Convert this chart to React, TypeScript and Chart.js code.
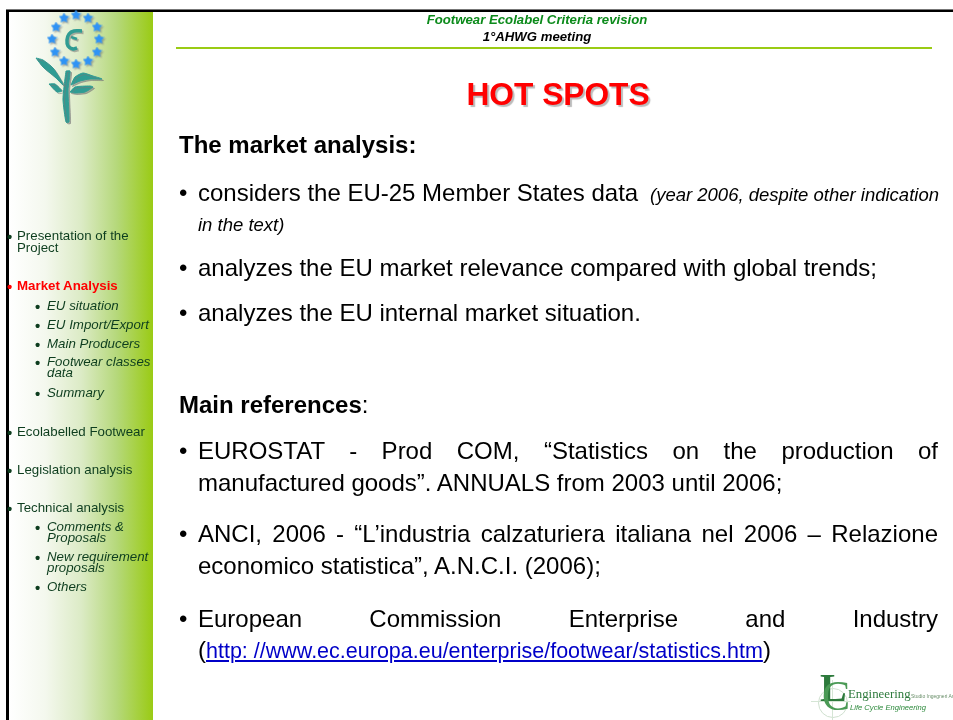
import React, { useEffect, useRef } from "react";
import { Chart, registerables } from "chart.js";

Chart.register(...registerables);

// Flower emblem (axis units equal page pixels)
const starX = [76, 88, 97, 99, 97, 88, 76, 64, 55, 52, 56, 64];
const starY = [15, 18, 27, 39, 52, 61, 64, 61, 52, 39, 27, 18];
const curlX = [82, 74, 69, 67, 68, 73, 77];
const curlY = [31, 31, 34, 40, 46, 49, 48];
const barX = [71, 77];
const barY = [37, 39];
const leafA = [[36, 58], [43, 60], [53, 68], [62, 82], [63, 85], [55, 77], [43, 67], [36, 58]];
const stem = [[66, 71], [70, 71], [68, 90], [69, 122], [66, 122], [63, 100], [64, 87], [66, 71]];
const leafB = [[71, 85], [75, 77], [83, 73], [93, 76], [102, 79], [90, 79], [80, 81], [71, 85]];
const leafC = [[70, 92], [75, 87], [90, 86], [93, 87], [85, 92], [75, 93], [70, 92]];
const leafD = [[49, 84], [55, 84], [62, 91], [57, 92], [49, 84]];
const ruleX = [176, 932];
const ruleY = [48, 48];

// Slide text
const headerLines = ["Footwear Ecolabel Criteria revision", "1°AHWG meeting"];
const slideTitle = "HOT SPOTS";
const marketHeading = "The market analysis:";
const marketLine1 = "considers the EU-25 Member States data";
const marketNote1 = "(year 2006, despite other indication";
const marketNote2 = "in the text)";
const marketLine2 = "analyzes the EU market relevance compared with global trends;";
const marketLine3 = "analyzes the EU internal market situation.";
const refsHeading = "Main references";
const ref1 = ["EUROSTAT - Prod COM, “Statistics on the production of", "manufactured goods”. ANNUALS from 2003 until 2006;"];
const ref2 = ["ANCI, 2006 - “L’industria calzaturiera italiana nel 2006 – Relazione", "economico statistica”, A.N.C.I. (2006);"];
const ref3 = ["European Commission Enterprise and Industry", "http: //www.ec.europa.eu/enterprise/footwear/statistics.htm"];
const navMain = ["Presentation of the", "Project"];
const navActive = "Market Analysis";
const navMarket = ["EU situation", "EU Import/Export", "Main Producers"];
const navClasses = ["Footwear classes", "data"];
const navSummary = "Summary";
const navEco = "Ecolabelled Footwear";
const navLeg = "Legislation analysis";
const navTech = "Technical analysis";
const navComments = ["Comments &", "Proposals"];
const navNew = ["New requirement", "proposals"];
const navOthers = "Others";

const SANS = "'Liberation Sans', Arial, sans-serif";
const SERIF = "'Liberation Serif', serif";
const NAV = "#0d3d1e";
const NAVSIZE = 13.3;

const poly = (pts: number[][]) => pts.map(([x, y]) => ({ x, y }));
const zip = (xs: number[], ys: number[]) => xs.map((x, i) => ({ x, y: ys[i] }));

const T = ({ x, y, s, c = "#000", b, i, children, st }: any) => (
  <div style={{ position: "absolute", left: x, top: y, fontFamily: SANS, fontSize: s, color: c, fontWeight: b ? 700 : 400, fontStyle: i ? "italic" : "normal", lineHeight: 1, whiteSpace: "pre", ...st }}>
    {children}
  </div>
);

const Bullet = ({ y }: any) => <T x={179} y={y} s={24}>•</T>;
const Body = ({ y, children }: any) => (
  <>
    <Bullet y={y} />
    <T x={198} y={y} s={24}>{children}</T>
  </>
);
const Just = ({ y, children }: any) => (
  <T x={198} y={y} s={24} st={{ width: 740, whiteSpace: "normal", textAlign: "justify", textAlignLast: "justify" }}>{children}</T>
);
const Nav = ({ y, children, c = NAV, b }: any) => (
  <>
    <T x={7} y={y} s={15} c={c} b>•</T>
    <T x={17} y={y} s={NAVSIZE} c={c} b={b}>{children}</T>
  </>
);
const Sub = ({ y, children }: any) => (
  <>
    <T x={35} y={y} s={15} c={NAV} b>•</T>
    <T x={47} y={y} s={NAVSIZE} c={NAV} i>{children}</T>
  </>
);

function starImage(color: string) {
  const cv = document.createElement("canvas");
  cv.width = 11;
  cv.height = 11;
  const g = cv.getContext("2d")!;
  g.fillStyle = color;
  g.beginPath();
  for (let k = 0; k < 10; k++) {
    const r = k % 2 ? 2.9 : 5.5;
    const a = -Math.PI / 2 + (k * Math.PI) / 5;
    g.lineTo(5.5 + r * Math.cos(a), 5.5 + r * Math.sin(a));
  }
  g.closePath();
  g.fill();
  return cv;
}

export default function App() {
  const ref = useRef<HTMLCanvasElement>(null);
  useEffect(() => {
    document.body.style.margin = "0";
    const teal = "#2f9c93";
    const area = (pts: number[][]) => ({
      type: "line" as const, data: poly(pts), fill: "shape", backgroundColor: teal,
      borderColor: teal, borderWidth: 1, pointRadius: 0, tension: 0.2,
    });
    const slidePlugin = {
      id: "slide",
      beforeDraw(c: any) {
        const g = c.ctx;
        g.save();
        g.fillStyle = "#fff";
        g.fillRect(0, 0, 953, 720);
        const grad = g.createLinearGradient(9, 0, 153, 0);
        grad.addColorStop(0, "#ffffff");
        grad.addColorStop(0.25, "#f4f8ee");
        grad.addColorStop(0.5, "#dcebc6");
        grad.addColorStop(0.75, "#b5d87a");
        grad.addColorStop(1, "#9acb14");
        g.fillStyle = grad;
        g.fillRect(9, 12, 144, 708);
        g.fillStyle = "#000";
        g.fillRect(6, 10, 947, 2);
        g.fillRect(6, 10, 3, 710);
        g.fillStyle = "#777";
        g.fillRect(6, 9, 947, 1);
        g.restore();
      },
      beforeDatasetDraw(c: any, args: any) {
        const g = c.ctx;
        const isRule = args.index === c.data.datasets.length - 1;
        g.shadowColor = isRule ? "transparent" : "rgba(120,120,120,0.55)";
        g.shadowOffsetX = isRule ? 0 : 1.5;
        g.shadowOffsetY = isRule ? 0 : 1.5;
        g.shadowBlur = isRule ? 0 : 0.5;
      },
      afterDatasetsDraw(c: any) {
        const g = c.ctx;
        g.shadowColor = "transparent";
        g.shadowOffsetX = 0;
        g.shadowOffsetY = 0;
        g.shadowBlur = 0;
      },
    };
    const chart = new Chart(ref.current!, {
      type: "scatter",
      data: {
        datasets: [
          { type: "scatter", data: zip(starX, starY), pointStyle: starImage("#2f93f5"), pointRadius: 5 },
          { type: "line", data: zip(curlX, curlY), borderColor: teal, borderWidth: 3.5, pointRadius: 0, tension: 0.35, fill: false },
          { type: "line", data: zip(barX, barY), borderColor: teal, borderWidth: 2.5, pointRadius: 0, fill: false },
          area(leafA), area(stem), area(leafB), area(leafC), area(leafD),
          { type: "line", data: zip(ruleX, ruleY), borderColor: "#9acb14", borderWidth: 2, pointRadius: 0, fill: false },
        ] as any,
      },
      options: {
        animation: false, responsive: false, maintainAspectRatio: false,
        layout: { padding: 0, autoPadding: false },
        plugins: { legend: { display: false }, tooltip: { enabled: false } },
        scales: {
          x: { type: "linear", min: 0, max: 953, display: false },
          y: { type: "linear", min: 0, max: 720, reverse: true, display: false },
        },
      } as any,
      plugins: [slidePlugin as any],
    });
    return () => chart.destroy();
  }, []);

  return (
    <div style={{ position: "relative", width: 953, height: 720, overflow: "hidden", background: "#fff" }}>
      <canvas ref={ref} width={953} height={720} style={{ position: "absolute", left: 0, top: 0, display: "block" }} />

      <T x={417} y={13} s={13.2} c="#0b8a1a" b i st={{ width: 240, textAlign: "center" }}>{headerLines[0]}</T>
      <T x={417} y={30} s={13.2} b i st={{ width: 240, textAlign: "center" }}>{headerLines[1]}</T>
      <T x={438} y={79} s={31.7} c="#ff0000" b st={{ width: 240, textAlign: "center", textShadow: "2px 2px 1px #bbb" }}>{slideTitle}</T>

      <T x={179} y={133} s={24} b>{marketHeading}</T>
      <Body y={181}>{marketLine1}</Body>
      <T x={650} y={186} s={18.5} i>{marketNote1}</T>
      <T x={198} y={216} s={18.5} i>{marketNote2}</T>
      <Body y={256}>{marketLine2}</Body>
      <Body y={301}>{marketLine3}</Body>

      <T x={179} y={393} s={24} b>{refsHeading}<span style={{ fontWeight: 400 }}>:</span></T>
      <Bullet y={439} />
      <Just y={439}>{ref1[0]}</Just>
      <T x={198} y={471} s={24}>{ref1[1]}</T>
      <Bullet y={522} />
      <Just y={522}>{ref2[0]}</Just>
      <T x={198} y={554} s={24}>{ref2[1]}</T>
      <Bullet y={607} />
      <Just y={607}>{ref3[0]}</Just>
      <T x={198} y={638} s={24}>(<span style={{ fontSize: 21.5, color: "#0000c8", textDecoration: "underline" }}>{ref3[1]}</span>)</T>

      <Nav y={229}>{navMain[0]}</Nav>
      <T x={17} y={241} s={NAVSIZE} c={NAV}>{navMain[1]}</T>
      <Nav y={279} c="#ff0000" b>{navActive}</Nav>
      <Sub y={299}>{navMarket[0]}</Sub>
      <Sub y={318}>{navMarket[1]}</Sub>
      <Sub y={337}>{navMarket[2]}</Sub>
      <Sub y={355}>{navClasses[0]}</Sub>
      <T x={47} y={366} s={NAVSIZE} c={NAV} i>{navClasses[1]}</T>
      <Sub y={386}>{navSummary}</Sub>
      <Nav y={425}>{navEco}</Nav>
      <Nav y={463}>{navLeg}</Nav>
      <Nav y={501}>{navTech}</Nav>
      <Sub y={520}>{navComments[0]}</Sub>
      <T x={47} y={531} s={NAVSIZE} c={NAV} i>{navComments[1]}</T>
      <Sub y={550}>{navNew[0]}</Sub>
      <T x={47} y={561} s={NAVSIZE} c={NAV} i>{navNew[1]}</T>
      <Sub y={580}>{navOthers}</Sub>

      <div style={{ position: "absolute", left: 818, top: 688, width: 28, height: 28, border: "1px solid #cfe0cf", borderRadius: "50%" }} />
      <div style={{ position: "absolute", left: 811, top: 701, width: 40, height: 1, background: "#d5e5d5" }} />
      <div style={{ position: "absolute", left: 832, top: 680, width: 1, height: 40, background: "#d5e5d5" }} />
      <T x={820} y={668} s={40} c="#2d7a3c" st={{ fontFamily: SERIF, fontWeight: 700 }}>L</T>
      <T x={822} y={675} s={42} c="#4a9a55" st={{ fontFamily: SERIF }}>C</T>
      <T x={848} y={688} s={12.8} c="#2d7a3c" st={{ fontFamily: SERIF }}>Engineering</T>
      <T x={911} y={694} s={5} c="#6a8f6a">Studio Ingegneri Assoc</T>
      <T x={850} y={704} s={7.6} c="#2d8a3c" i>Life Cycle Engineering</T>
    </div>
  );
}
